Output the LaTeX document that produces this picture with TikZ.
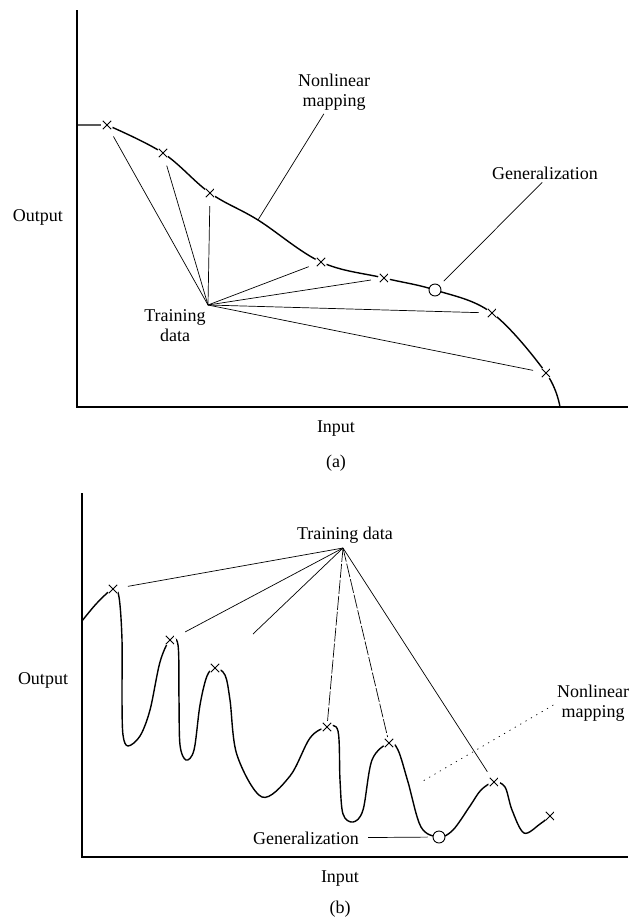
\documentclass[tikz,border=0pt]{standalone}
\usepackage{fontspec}
\setmainfont{Liberation Serif}
\tikzset{
  lbl/.style={font=\fontsize{18}{20}\selectfont, inner sep=0pt, align=center},
  axis/.style={line width=1.2pt},
  curve/.style={line width=1.4pt, line join=round},
  spoke/.style={line width=0.7pt},
  ptr/.style={line width=0.7pt},
  xmark/.style={circle, fill=white, minimum size=12pt, inner sep=0pt,
    path picture={\draw[line width=0.9pt]
      ([xshift=-4.4pt,yshift=-4.4pt]path picture bounding box.center) --
      ([xshift=4.4pt,yshift=4.4pt]path picture bounding box.center)
      ([xshift=-4.4pt,yshift=4.4pt]path picture bounding box.center) --
      ([xshift=4.4pt,yshift=-4.4pt]path picture bounding box.center);}},
  gcirc/.style={circle, draw, fill=white, line width=0.9pt, minimum size=12pt, inner sep=0pt}
}
\begin{document}
\begin{tikzpicture}[x=1pt,y=-1pt]
\useasboundingbox (0,0) rectangle (631,919);
% (a) smooth mapping
\draw[axis] (77,10) -- (77,407) -- (628,407);
\draw[curve] (77,125) -- plot[smooth,tension=0.6] coordinates
  {(107,125) (163,153) (210,193) (258,220) (321,262) (384,278) (435,290) (492,313) (546,373) (560,407)};
\node[xmark] (a1) at (107,125) {};
\node[xmark] (a2) at (163,153) {};
\node[xmark] (a3) at (210,193) {};
\node[xmark] (a4) at (321,262) {};
\node[xmark] (a5) at (384,278) {};
\node[xmark] (a6) at (492,313) {};
\node[xmark] (a7) at (546,373) {};
\node[gcirc] (ag) at (435,290) {};
\coordinate (hubA) at (208,305);
\coordinate (mapAend) at (258,220);
\node[lbl] (trainA) at (175,326) {Training\\data};
\node[lbl] (mapA) at (334,92) {Nonlinear\\mapping};
\node[lbl] (genA) at (545,173) {Generalization};
\node[lbl] (outA) at (38,217) {Output};
\node[lbl] (inA) at (336,429) {Input};
\node[lbl] (capA) at (336,463) {(a)};
\foreach \m in {a1,a2,a3,a4,a5,a6,a7}
  \draw[spoke, shorten >=7pt] (hubA) -- (\m);
\draw[ptr, shorten <=4pt] ([xshift=-8pt]mapA.south) -- (mapAend);
\draw[ptr, shorten <=4pt, shorten >=6pt] (genA.south) -- (ag);
% (b) overfitted mapping
\draw[axis] (82,493) -- (82,857) -- (628,857);
\draw[curve] plot[smooth,tension=0.55] coordinates
  {(82,621) (97,603) (113,589) (119,597) (122,640) (122,700) (123,735) (128,746)
   (140,736) (150,710) (160,662) (170,640) (178,645) (179,700) (180,745) (186,760)
   (194,750) (200,705) (207,676) (215,668) (225,675) (230,700) (237,755) (262,797)
   (290,776) (310,738) (327,727) (338,731) (340,780) (343,814) (353,822) (363,810)
   (372,760) (389,743) (398,750) (408,782) (421,827) (439,837) (453,830) (470,806)
   (481,790) (494,782) (505,787) (512,810) (524,833) (540,824) (550,816)};
\node[xmark] (b1) at (113,589) {};
\node[xmark] (b2) at (170,640) {};
\node[xmark] (b3) at (215,668) {};
\node[xmark] (b4) at (327,727) {};
\node[xmark] (b5) at (389,743) {};
\node[xmark] (b6) at (494,782) {};
\node[xmark] (b7) at (550,816) {};
\node[gcirc] (bg) at (439,837) {};
\coordinate (hubB) at (343,548);
\coordinate (bfree) at (253,634);
\coordinate (mapBend) at (423,781);
\node[lbl, anchor=south] (trainB) at (345,544) {Training data};
\node[lbl] (mapB) at (593,703) {Nonlinear\\mapping};
\node[lbl] (genB) at (306,838) {Generalization};
\node[lbl] (outB) at (43,680) {Output};
\node[lbl] (inB) at (340,879) {Input};
\node[lbl] (capB) at (340,909) {(b)};
\draw[spoke, shorten >=9pt] (hubB) -- (b1);
\draw[spoke, shorten >=11pt] (hubB) -- (b2);
\draw[spoke] (hubB) -- (bfree);
\draw[spoke, dash pattern=on 14pt off 2pt] (hubB) -- (b4);
\draw[spoke, dash pattern=on 14pt off 2pt] (hubB) -- (b5);
\draw[spoke, shorten >=6pt] (hubB) -- (b6);
\draw[ptr, shorten <=9pt, shorten >=5pt] (genB) -- (bg);
\draw[ptr, dash pattern=on 1.2pt off 5pt, shorten <=4pt] (mapB.west) -- (mapBend);
\end{tikzpicture}
\end{document}
